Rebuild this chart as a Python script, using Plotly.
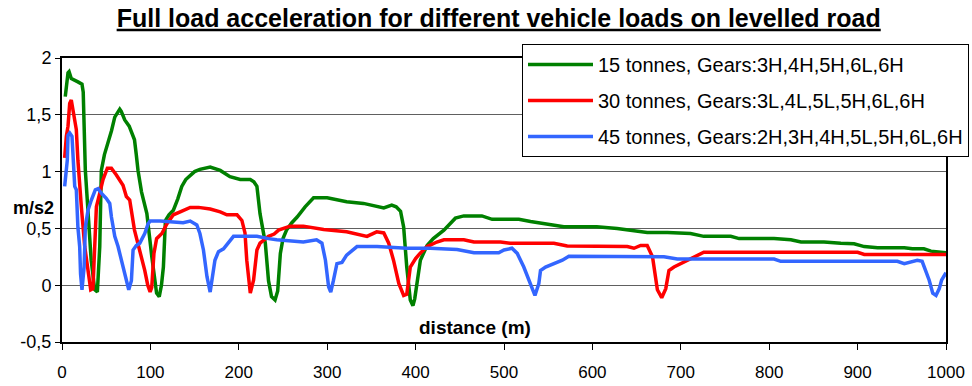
import plotly.graph_objects as go

# ---------------- data (distance in m, acceleration in m/s2) ----------------
names = [
    "15 tonnes, Gears:3H,4H,5H,6L,6H",
    "30 tonnes, Gears:3L,4L,5L,5H,6L,6H",
    "45 tonnes, Gears:2H,3H,4H,5L,5H,6L,6H",
]
colors = ["#008000", "#FF0000", "#3366FF"]

d15 = [3.7, 6.8, 8, 10.5, 18, 22.6, 24, 25, 26.4, 29, 33, 37, 40, 42.7, 44.5, 48, 52, 56, 59.7, 63, 65.3,
       67, 71, 76, 82, 84, 86, 90, 93.6, 96, 101.6, 107, 110, 112.5, 114.7, 117, 121, 126, 131, 135.5, 140,
       145, 150, 156, 167.6, 179, 190, 201.6, 213, 217, 220.5, 224, 230, 233.6, 237, 241, 244, 247, 250,
       254, 260, 266, 275, 284.6, 300, 322, 341, 364, 368, 373, 378, 383, 386.5, 390, 394, 397, 399, 401.7,
       405.4, 413, 420, 432, 445, 454.5, 475, 486.6, 516.8, 530, 567.7, 605, 628, 662, 685, 711, 722.5,
       726, 756.5, 766, 805.5, 824.5, 836, 862, 881, 896, 907.5, 922.6, 952.8, 962, 975, 983, 1000]
a15 = [1.66, 1.87, 1.88, 1.82, 1.79, 1.77, 1.7, 1.25, 1.01, 0.7, 0.22, -0.04, -0.06, 0.34, 1.01, 1.15, 1.25,
       1.36, 1.48, 1.53, 1.55, 1.53, 1.455, 1.4, 1.28, 1.15, 1.01, 0.82, 0.69, 0.63, 0.25, -0.07, -0.1, 0.0,
       0.16, 0.57, 0.62, 0.66, 0.76, 0.87, 0.93, 0.97, 1.0, 1.02, 1.04, 1.01, 0.955, 0.93, 0.93, 0.91, 0.87,
       0.63, 0.37, 0.04, -0.1, -0.13, -0.05, 0.28, 0.41, 0.485, 0.55, 0.6, 0.69, 0.77, 0.77, 0.735, 0.72,
       0.68, 0.69, 0.705, 0.69, 0.65, 0.51, 0.16, -0.13, -0.18, -0.12, 0.04, 0.22, 0.35, 0.41, 0.485, 0.59,
       0.61, 0.61, 0.58, 0.58, 0.56, 0.515, 0.515, 0.5, 0.465, 0.465, 0.455, 0.435, 0.43, 0.43, 0.41, 0.41,
       0.4, 0.38, 0.38, 0.37, 0.365, 0.34, 0.33, 0.33, 0.32, 0.32, 0.3, 0.285]

d30 = [3, 4.9, 6.8, 8.7, 10.5, 12.5, 16.2, 18, 20, 21.9, 25.7, 29.4, 32.5, 35, 37, 38.9, 42.7, 46.4, 51.3,
       55.9, 61.5, 69, 72.8, 76.6, 82, 88, 93.6, 97, 99.7, 101.5, 104, 107, 113, 118.6, 126, 135, 145,
       154.4, 167.6, 179, 186.5, 198, 203.5, 207, 209, 213, 216.7, 220.5, 224, 233.6, 240, 245, 258, 273,
       296, 322, 345, 356, 364, 369.6, 375, 381, 386.5, 390, 394, 400, 405, 413, 424, 432, 454.5, 466, 496,
       507, 556.4, 571.5, 639.5, 647, 654.6, 662, 668, 673.5, 678.4, 683, 686.6, 692.3, 703.6, 711, 719,
       726, 900, 907.5, 1000]
a30 = [1.12, 1.31, 1.4, 1.6, 1.63, 1.54, 1.37, 1.1, 0.87, 0.69, 0.34, 0.1, -0.04, -0.03, 0.34, 0.69, 0.81,
       0.93, 1.03, 1.03, 0.97, 0.88, 0.78, 0.75, 0.485, 0.31, 0.13, 0.0, -0.06, -0.02, 0.28, 0.41, 0.455,
       0.54, 0.62, 0.65, 0.685, 0.685, 0.67, 0.645, 0.62, 0.62, 0.57, 0.46, 0.22, -0.07, 0.044, 0.31, 0.37,
       0.43, 0.45, 0.485, 0.52, 0.52, 0.49, 0.47, 0.43, 0.47, 0.46, 0.37, 0.22, 0.015, -0.09, -0.08, 0.16,
       0.235, 0.28, 0.34, 0.38, 0.4, 0.4, 0.38, 0.38, 0.37, 0.37, 0.345, 0.34, 0.325, 0.35, 0.35, 0.25,
       -0.04, -0.11, -0.03, 0.13, 0.16, 0.205, 0.23, 0.265, 0.29, 0.29, 0.27, 0.27]

d45 = [3, 4.9, 6, 6.8, 8.7, 11.3, 12.5, 14.4, 16.2, 18, 20, 21, 22.6, 25, 26.4, 29.4, 33.2, 37.7, 40.8, 44.5,
       50, 54, 55.9, 59.7, 63.4, 67.2, 71, 75.5, 78.5, 80.4, 84, 88, 93.6, 97.4, 99.7, 111, 137, 145, 152.5,
       156, 160, 164, 167.6, 170.6, 173, 177, 182.7, 194, 220.5, 233.6, 243, 273, 288, 294, 298, 301.6, 304,
       307, 311, 316.7, 322, 333.7, 356.4, 390, 416.8, 447, 466, 494, 500, 509, 515, 522.4, 530, 535,
       539.4, 541.3, 547, 556.4, 566, 573.4, 643, 681, 696, 805.5, 813, 945, 952.8, 960, 967.5, 973, 977,
       981, 985, 988.7, 992.4, 995, 1000]
a45 = [0.87, 0.985, 1.1, 1.32, 1.34, 1.31, 1.1, 0.87, 0.84, 0.51, 0.34, 0.1, -0.04, 0.16, 0.51, 0.66, 0.75,
       0.84, 0.85, 0.81, 0.765, 0.72, 0.6, 0.43, 0.34, 0.22, 0.1, -0.04, 0.04, 0.31, 0.35, 0.37, 0.455, 0.54,
       0.565, 0.565, 0.55, 0.565, 0.53, 0.455, 0.31, 0.075, -0.06, 0.075, 0.22, 0.295, 0.32, 0.43, 0.43,
       0.41, 0.4, 0.38, 0.4, 0.37, 0.22, -0.015, -0.06, 0.04, 0.19, 0.2, 0.265, 0.34, 0.34, 0.325, 0.325,
       0.315, 0.285, 0.285, 0.31, 0.325, 0.28, 0.16, 0.015, -0.09, 0.015, 0.13, 0.16, 0.19, 0.22, 0.255,
       0.255, 0.25, 0.23, 0.23, 0.21, 0.21, 0.19, 0.205, 0.22, 0.21, 0.13, 0.044, -0.07, -0.09, -0.03,
       0.044, 0.11]

x_ticks = [0, 100, 200, 300, 400, 500, 600, 700, 800, 900, 1000]
y_ticks = [-0.5, 0, 0.5, 1, 1.5, 2]
y_tick_labels = ["-0,5", "0", "0,5", "1", "1,5", "2"]

title_text = "Full load acceleration for different vehicle loads on levelled road"
x_title = "distance (m)"
y_title = "m/s2"

FONT = "Liberation Sans, Arial, sans-serif"

fig = go.Figure()
for i, (xs, ys) in enumerate([(d15, a15), (d30, a30), (d45, a45)]):
    fig.add_trace(go.Scatter(
        x=xs, y=ys, mode="lines", name=names[i], legendgroup=f"g{i}",
        line=dict(color=colors[i], width=3.5),
    ))

fig.update_layout(
    width=972, height=386,
    margin=dict(l=62, r=26, t=58, b=44, pad=0, autoexpand=False),
    paper_bgcolor="white", plot_bgcolor="white",
    font=dict(family=FONT, color="black", size=17),
    showlegend=True,
    title=dict(
        text=f"<b><u>{title_text}</u></b>",
        x=0.494, xref="paper", xanchor="center",
        y=(386 - 18) / 386, yref="container", yanchor="middle",
        font=dict(family=FONT, size=25, color="black"),
    ),
    legend=dict(
        x=(522 - 62) / 884, y=1 + (58 - 44) / 283.5, xanchor="left", yanchor="top",
        bgcolor="white", bordercolor="black", borderwidth=1,
        font=dict(family=FONT, size=20, color="black"),
        tracegroupgap=7, itemwidth=65,
    ),
    xaxis=dict(
        range=[0, 1000], tickvals=x_ticks, automargin=False,
        showgrid=False, zeroline=False,
        showline=True, linecolor="black", linewidth=2, mirror=True,
        ticks="outside", ticklen=6, tickcolor="black", tickwidth=1,
        tickfont=dict(family=FONT, size=17, color="black"),
        ticklabelstandoff=8,
    ),
    yaxis=dict(
        range=[-0.5, 2], tickvals=y_ticks, ticktext=y_tick_labels, automargin=False,
        showgrid=True, gridcolor="#606060", gridwidth=1, zeroline=False,
        showline=True, linecolor="black", linewidth=2, mirror=True,
        ticks="outside", ticklen=5, tickcolor="black", tickwidth=1,
        tickfont=dict(family=FONT, size=18, color="black"),
    ),
    annotations=[
        dict(text=f"<b>{y_title}</b>", xref="paper", yref="paper",
             x=(33 - 62) / 884, y=(341.5 - 208) / 283.5, xanchor="center", yanchor="middle",
             showarrow=False, font=dict(family=FONT, size=18, color="black")),
        dict(text=f"<b>{x_title}</b>", xref="paper", yref="paper",
             x=(475 - 62) / 884, y=(341.5 - 327) / 283.5, xanchor="center", yanchor="middle",
             showarrow=False, font=dict(family=FONT, size=19, color="black")),
    ],
)

fig.write_html("out.html")
